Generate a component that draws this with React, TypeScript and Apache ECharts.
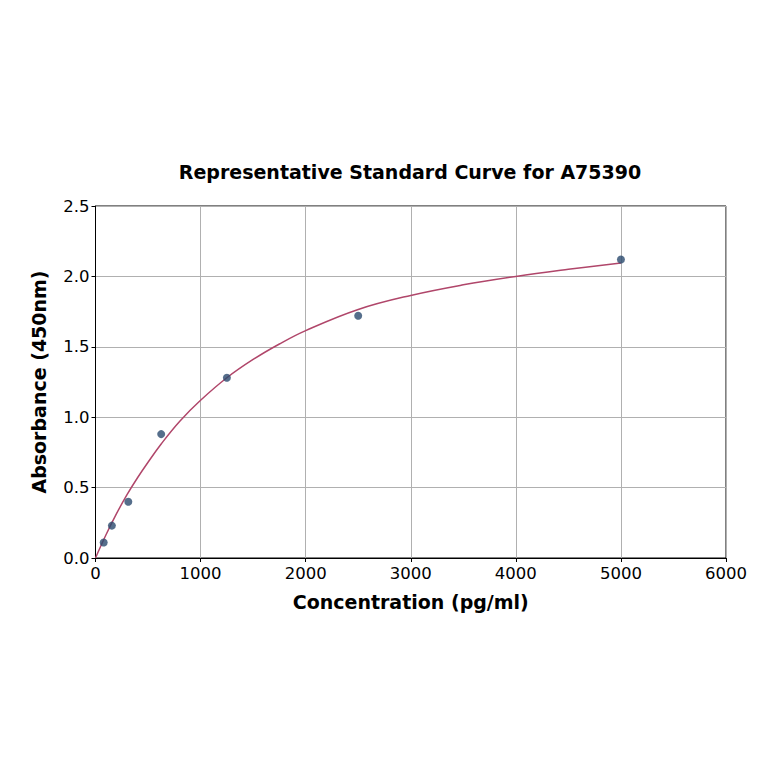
import { useEffect, useRef } from 'react';
import * as echarts from 'echarts';

// standard points (concentration pg/ml, absorbance)
const stdConc = [78, 156, 312, 625, 1250, 2500, 5000];
const stdAbs = [0.11, 0.23, 0.4, 0.88, 1.28, 1.72, 2.12];

// fitted curve
const curveConc = [0, 100, 200, 300, 400, 500, 625, 800, 1000, 1250, 1500, 1750, 2000, 2500, 3000, 3500, 4000, 4500, 5000];
const curveAbs = [0, 0.165, 0.315, 0.45, 0.57, 0.68, 0.81, 0.97, 1.12, 1.28, 1.41, 1.52, 1.615, 1.765, 1.865, 1.94, 2.0, 2.05, 2.095];

const FONT = 'DejaVu Sans';

export default function App() {
  const chartRef = useRef<HTMLDivElement>(null);

  useEffect(() => {
    document.body.style.margin = '0';
    if (!chartRef.current) return;
    const chart = echarts.init(chartRef.current, undefined, { renderer: 'svg' });

    chart.setOption({
      animation: false,
      backgroundColor: '#ffffff',
      title: {
        text: 'Representative Standard Curve for A75390',
        left: 405,
        top: 157,
        textAlign: 'center',
        textStyle: { fontFamily: FONT, fontSize: 19, fontWeight: 'bold', color: '#000' },
      },
      grid: { left: 95.5, right: 38, top: 206, bottom: 206, show: true, borderColor: '#000', borderWidth: 1 },
      xAxis: {
        type: 'value',
        min: 0,
        max: 6000,
        interval: 1000,
        name: 'Concentration (pg/ml)',
        nameLocation: 'middle',
        nameGap: 34,
        nameTextStyle: { fontFamily: FONT, fontSize: 19, fontWeight: 'bold', color: '#000' },
        axisLine: { show: true, onZero: false, lineStyle: { color: '#000' } },
        axisTick: { show: true, length: 4, lineStyle: { color: '#000' } },
        axisLabel: { fontFamily: FONT, fontSize: 16.5, color: '#000', margin: 7, formatter: (v: number) => String(v) },
        splitLine: { show: true, lineStyle: { color: '#b0b0b0', width: 1 } },
      },
      yAxis: {
        type: 'value',
        min: 0,
        max: 2.5,
        interval: 0.5,
        name: 'Absorbance (450nm)',
        nameLocation: 'middle',
        nameGap: 47,
        nameRotate: 90,
        nameTextStyle: { fontFamily: FONT, fontSize: 19, fontWeight: 'bold', color: '#000' },
        axisLine: { show: true, onZero: false, lineStyle: { color: '#000' } },
        axisTick: { show: true, length: 4, lineStyle: { color: '#000' } },
        axisLabel: { fontFamily: FONT, fontSize: 16.5, color: '#000', margin: 6, formatter: (v: number) => v.toFixed(1) },
        splitLine: { show: true, lineStyle: { color: '#b0b0b0', width: 1 } },
      },
      series: [
        {
          type: 'line',
          data: curveConc.map((c, i) => [c, curveAbs[i]]),
          smooth: 0.4,
          showSymbol: false,
          lineStyle: { color: '#b0466a', width: 1.5 },
          z: 2,
        },
        {
          type: 'scatter',
          data: stdConc.map((c, i) => [c, stdAbs[i]]),
          symbolSize: 8,
          itemStyle: { color: '#2a4a6e' },
          z: 3,
        },
      ],
    });

    return () => {
      chart.dispose();
    };
  }, []);

  return <div ref={chartRef} style={{ width: 764, height: 764 }} />;
}
